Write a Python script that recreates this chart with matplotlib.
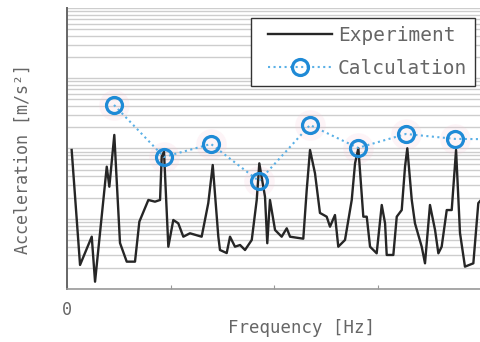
import matplotlib.pyplot as plt
from matplotlib.patches import Rectangle
import numpy as np

# measured spectrum (Hz, m/s^2)
freq_exp = [4.5, 12.6, 23.9, 27.1, 38.4, 40.9, 45.7, 51.2, 57.7, 65.7,
            69.9, 78.6, 85.0, 89.9, 91.5, 93.7, 97.9, 102.7, 107.5, 112.4,
            118.8, 130.1, 136.5, 140.8, 146.2, 147.8, 154.3, 157.5, 162.3, 167.2,
            172.0, 178.5, 183.3, 185.8, 191.3, 193.5, 196.1, 201.0, 207.4, 212.3,
            215.5, 228.3, 231.6, 234.8, 239.6, 244.4, 250.9, 254.1, 258.9, 262.1,
            268.6, 275.1, 278.3, 281.5, 286.3, 289.6, 292.8, 299.2, 304.1, 307.3,
            308.9, 315.3, 318.6, 323.4, 326.6, 328.8, 333.1, 336.2, 342.7, 345.9,
            350.7, 355.6, 358.8, 362.0, 366.9, 371.7, 375.9, 379.7, 384.5, 392.6,
            397.4, 400.0]
acc_exp = [0.0953, 0.00220, 0.00555, 0.00127, 0.0551, 0.0286, 0.156, 0.00452, 0.00245, 0.00245,
           0.00908, 0.0185, 0.0175, 0.0185, 0.0764, 0.0900, 0.00400, 0.00960, 0.00861, 0.00555,
           0.00621, 0.00555, 0.0167, 0.0582, 0.00555, 0.00359, 0.00325, 0.00555, 0.00400, 0.00423,
           0.00359, 0.00499, 0.0185, 0.0615, 0.0206, 0.00448, 0.0185, 0.00692, 0.00555, 0.00731,
           0.00555, 0.00520, 0.0256, 0.0953, 0.0444, 0.0121, 0.0107, 0.00771, 0.0113, 0.00400,
           0.00499, 0.0185, 0.0615, 0.1007, 0.0107, 0.0107, 0.00400, 0.00322, 0.0157, 0.00861,
           0.00305, 0.00305, 0.0107, 0.0133, 0.0551, 0.1007, 0.0185, 0.00861, 0.00400, 0.00232,
           0.0157, 0.00692, 0.00322, 0.00400, 0.0133, 0.0133, 0.0953, 0.00627, 0.00208, 0.00232,
           0.0167, 0.0185]

# calculated peaks
freq_calc = [45.4, 93.7, 139.1, 185.5, 234.8, 281.2, 327.5, 374.9, 422.0]
acc_calc = [0.416, 0.0757, 0.116, 0.0344, 0.216, 0.102, 0.161, 0.137, 0.135]

xticks = [0, 100, 200, 300, 400]
xticklabels = ['0', '', '', '', '']

fig = plt.figure(figsize=(4.81, 3.42), dpi=100)
ax = fig.add_axes([0.1393, 0.155, 0.8607, 0.8216])

ax.set_yscale('log')
ax.set_xlim(0, 400)
ax.set_ylim(1e-3, 1e1)

ax.grid(True, which='both', axis='y', color='#cdcdcd', lw=1.0)
ax.set_axisbelow(True)

# faint pink halo seen in the scan
ax.plot(freq_calc, acc_calc, 'o', color='#f7c6d4', ms=22, alpha=0.18, mew=0)

ax.plot(freq_exp, acc_exp, color='#262626', lw=1.7, label='Experiment')
ax.plot(freq_calc, acc_calc, ':', color='#5ab0e6', lw=1.5, marker='o', ms=11.5,
        mfc='none', mec='#1f8ad6', mew=2.3, label='Calculation')

ax.spines['top'].set_visible(False)
ax.spines['right'].set_visible(False)
ax.spines['left'].set_color('#666666')
ax.spines['left'].set_linewidth(1.4)
ax.spines['bottom'].set_color('#999999')
ax.spines['bottom'].set_linewidth(1.2)

ax.set_xticks(xticks)
ax.set_xticklabels(xticklabels, family='DejaVu Sans Mono', fontsize=12, color='#666666')
ax.tick_params(axis='x', direction='in', length=3, color='#999999', pad=9)
ax.tick_params(axis='y', which='both', length=0, labelleft=False)

fig.text(0.0478, 0.535, 'Acceleration [m/s²]', rotation=90, ha='center', va='center',
         family='DejaVu Sans Mono', fontsize=12, color='#666666')
fig.text(0.626, 0.041, 'Frequency [Hz]', ha='center', va='center',
         family='DejaVu Sans Mono', fontsize=12.5, color='#666666')

# legend box drawn separately so it can be wider than the entries
box = Rectangle((0.444, 0.7224), 0.541, 0.242, transform=ax.transAxes,
                facecolor='white', edgecolor='#333333', lw=1.0, zorder=4)
ax.add_patch(box)

leg = ax.legend(loc='center left', bbox_to_anchor=(0.4855, 0.8434), borderaxespad=0,
                prop={'family': 'DejaVu Sans Mono', 'size': 14}, frameon=False,
                handlelength=3.3, handletextpad=0.3, labelspacing=0.75, borderpad=0)
leg.set_zorder(5)
for t in leg.get_texts():
    t.set_color('#666666')

fig.savefig('out.png', dpi=100)
